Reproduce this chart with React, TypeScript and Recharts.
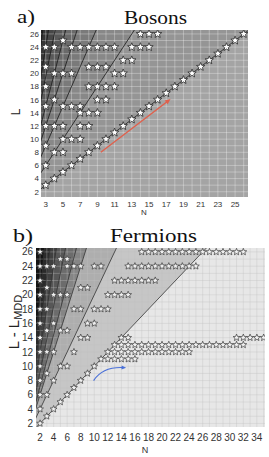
import { Area, ComposedChart, ReferenceLine, Scatter, XAxis, YAxis } from "recharts"

// ---------- panel a) Bosons ----------
const bosonTicksN = [3, 5, 7, 9, 11, 13, 15, 17, 19, 21, 23, 25]
const ticksL = [2, 4, 6, 8, 10, 12, 14, 16, 18, 20, 22, 24, 26]
// fan lines L = k*N, steepest first, and the grey of the wedge just under each line
const bosonSlopes = [10, 8, 6.5, 5, 4, 3, 2, 1]
const bosonShades = ["#363636", "#474747", "#595959", "#6a6a6a", "#7a7a7a", "#888888", "#959595", "#a4a4a4"]
const bosonTopShade = "#232323"
const bosonDiagonal = [3, 4, 5, 6, 7, 8, 9, 10, 11, 12, 13, 14, 15, 16, 17, 18, 19, 20, 21, 22, 23, 24, 25, 26]
// [L, N values] off the diagonal
const bosonRows: [number, number[]][] = [
  [26, [14, 15, 16]],
  [25, [5]],
  [24, [3, 4, 6, 7, 8, 9, 10, 11, 13, 14, 15]],
  [22, [12, 13]],
  [21, [3, 8, 9, 10]],
  [20, [4, 5, 6, 11, 12]],
  [18, [3, 8, 9, 10, 11]],
  [16, [4, 9, 10]],
  [15, [3, 5, 6, 7]],
  [14, [7, 8, 9]],
  [12, [3, 4, 5, 7, 8]],
  [10, [5, 6, 7]],
  [9, [3]],
  [8, [4, 5]],
  [6, [3]],
]
const bosonArrow = [
  { x: 9.4, y: 8 },
  { x: 17.5, y: 16.1 },
]

// ---------- panel b) Fermions ----------
const fermionTicksN = [2, 4, 6, 8, 10, 12, 14, 16, 18, 20, 22, 24, 26, 28, 30, 32, 34]
const fermionSlopes = [10, 7.6, 6, 4.6, 3.6, 3, 2, 1]
const fermionShades = ["#2a2a2a", "#404040", "#575757", "#6c6c6c", "#858585", "#aeaeae", "#c6c6c6", "#e7e7e7"]
const fermionTopShade = "#141414"
const fermionDiagonal = [2, 3, 4, 5, 6, 7, 8, 9, 10]
const fermionRows: [number, number[]][] = [
  [26, [2, 17, 18, 19, 20, 21, 22, 23, 24, 25, 26, 27, 28, 29, 30, 31, 32]],
  [25, [5, 6]],
  [24, [2, 3, 4, 6, 7, 8, 10, 11, 15, 16, 17, 18, 19, 20, 21, 22, 23, 24, 25]],
  [22, [2, 13, 14, 15, 16, 17, 18, 19]],
  [21, [3, 8, 9]],
  [20, [2, 4, 5, 6, 12, 13, 14, 15]],
  [18, [2, 3, 7, 8, 10, 11, 12]],
  [16, [2, 4, 9, 10]],
  [15, [3, 5, 6]],
  [14, [2, 8, 9, 14, 15, 31, 32, 33, 34, 35]],
  [13, [13, 14, 15, 16, 17, 18, 19, 20, 21, 22, 23, 24, 25, 26, 27, 28, 29, 30, 31, 32]],
  [12, [2, 3, 4, 7, 12, 13, 14, 15, 16, 17, 18, 19, 20, 21, 22, 23, 24]],
  [11, [11, 12, 13, 14, 15, 16]],
  [10, [2, 5, 6]],
  [9, [3]],
  [8, [2, 4]],
  [6, [2, 3]],
  [4, [2]],
]
const fermionArrow = [
  { x: 9.9, y: 8.0 },
  { x: 14.7, y: 9.8 },
]

const tickFont = "'Liberation Sans', Arial, sans-serif"

function toPoints(diagonal: number[], rows: [number, number[]][]) {
  const pts = diagonal.map((n) => ({ n, l: n }))
  rows.forEach(([l, ns]) => ns.forEach((n) => pts.push({ n, l })))
  return pts
}

function fanTable(slopes: number[]) {
  return [0, 40].map((n) => {
    const row: Record<string, number> = { n, top: 60 }
    slopes.forEach((k, i) => {
      row[`s${i}`] = k * n
    })
    return row
  })
}

function starPoints(cx: number, cy: number, R: number, r: number) {
  const pts: string[] = []
  for (let i = 0; i < 10; i++) {
    const rad = i % 2 === 0 ? R : r
    const a = -Math.PI / 2 + (i * Math.PI) / 5
    pts.push(`${(cx + rad * Math.cos(a)).toFixed(2)},${(cy + rad * Math.sin(a)).toFixed(2)}`)
  }
  return pts.join(" ")
}

const makeStar = (R: number, r: number, fill: string, stroke: string, sw: number) => (props: any) =>
  <polygon points={starPoints(props.cx, props.cy, R, r)} fill={fill} stroke={stroke} strokeWidth={sw} />

function arrowHead(x: number, y: number, ang: number, size: number) {
  const w = 0.42
  const a = [x - size * Math.cos(ang - w), y - size * Math.sin(ang - w)]
  const b = [x - size * Math.cos(ang + w), y - size * Math.sin(ang + w)]
  return `${x},${y} ${a[0]},${a[1]} ${b[0]},${b[1]}`
}

const StraightArrow = (props: any) => {
  const { x1, y1, x2, y2 } = props
  const ang = Math.atan2(y2 - y1, x2 - x1)
  const color = "#e0604c"
  return (
    <g>
      <line x1={x1} y1={y1} x2={x2 - 4 * Math.cos(ang)} y2={y2 - 4 * Math.sin(ang)} stroke={color} strokeWidth={1.4} />
      <polygon points={arrowHead(x2, y2, ang, 6)} fill={color} />
    </g>
  )
}

const CurvedArrow = (props: any) => {
  const { x1, y1, x2, y2 } = props
  const cx = x1 + 0.28 * (x2 - x1)
  const cy = y2 - 1
  const ang = Math.atan2(y2 - cy, x2 - cx)
  const color = "#4a70d8"
  return (
    <g>
      <path
        d={`M${x1},${y1} Q${cx},${cy} ${x2 - 3 * Math.cos(ang)},${y2 - 3 * Math.sin(ang)}`}
        fill="none"
        stroke={color}
        strokeWidth={1.2}
      />
      <polygon points={arrowHead(x2, y2, ang, 5)} fill={color} />
    </g>
  )
}

function range(a: number, b: number) {
  return Array.from({ length: b - a + 1 }, (_, i) => a + i)
}

interface PanelProps {
  width: number
  height: number
  margin: { top: number; right: number; bottom: number; left: number }
  yWidth: number
  xDomain: [number, number]
  yDomain: [number, number]
  xTicks: number[]
  slopes: number[]
  shades: string[]
  topShade: string
  points: { n: number; l: number }[]
  star: (p: any) => any
  gridN: number[]
  gridL: number[]
  gridStroke: string
  gridOpacity: number
  lineStroke: string
  fontSize: number
  xTickGap: number
  yTickGap: number
  arrow: { x: number; y: number }[]
  arrowShape: (p: any) => any
}

function Panel(p: PanelProps) {
  const data = fanTable(p.slopes)
  return (
    <ComposedChart width={p.width} height={p.height} data={data} margin={p.margin}>
      <XAxis
        type="number"
        dataKey="n"
        domain={p.xDomain}
        allowDataOverflow
        ticks={p.xTicks}
        interval={0}
        axisLine={false}
        tickLine={false}
        tickSize={2}
        tickMargin={p.xTickGap}
        height={20}
        tick={{ fontSize: p.fontSize, fill: "#333", fontFamily: tickFont }}
      />
      <YAxis
        type="number"
        dataKey="l"
        domain={p.yDomain}
        allowDataOverflow
        ticks={ticksL}
        interval={0}
        axisLine={false}
        tickLine={false}
        tickSize={2}
        tickMargin={p.yTickGap}
        width={p.yWidth}
        tick={{ fontSize: p.fontSize, fill: "#333", fontFamily: tickFont }}
      />
      <Area
        type="linear"
        dataKey="top"
        stroke="none"
        fill={p.topShade}
        fillOpacity={1}
        dot={false}
        activeDot={false}
        isAnimationActive={false}
      />
      {p.slopes.map((k, i) => (
        <Area
          key={`w${k}`}
          type="linear"
          dataKey={`s${i}`}
          stroke="none"
          fill={p.shades[i]}
          fillOpacity={1}
          dot={false}
          activeDot={false}
          isAnimationActive={false}
        />
      ))}
      {p.gridN.map((n) => (
        <ReferenceLine key={`gx${n}`} x={n} stroke={p.gridStroke} strokeOpacity={p.gridOpacity} strokeWidth={1} />
      ))}
      {p.gridL.map((l) => (
        <ReferenceLine key={`gy${l}`} y={l} stroke={p.gridStroke} strokeOpacity={p.gridOpacity} strokeWidth={1} />
      ))}
      {p.slopes.map((k) => (
        <ReferenceLine
          key={`f${k}`}
          segment={[
            { x: 0, y: 0 },
            { x: 40, y: 40 * k },
          ]}
          ifOverflow="hidden"
          stroke={p.lineStroke}
          strokeWidth={0.8}
        />
      ))}
      <ReferenceLine segment={p.arrow} shape={p.arrowShape} />
      <Scatter data={p.points} dataKey="l" shape={p.star} isAnimationActive={false} />
    </ComposedChart>
  )
}

export default function App() {
  const serif = "'Liberation Serif', 'Times New Roman', serif"
  return (
    <div style={{ position: "absolute", left: 0, top: 0, width: 269, height: 457, background: "#fff" }}>
      <div style={{ position: "absolute", left: 0, top: 0 }}>
        <Panel
          width={269}
          height={225}
          margin={{ top: 30, right: 21, bottom: 8, left: 0 }}
          yWidth={41}
          xDomain={[2.45, 26.5]}
          yDomain={[1.2, 26.6]}
          xTicks={bosonTicksN}
          slopes={bosonSlopes}
          shades={bosonShades}
          topShade={bosonTopShade}
          points={toPoints(bosonDiagonal, bosonRows)}
          star={makeStar(4.4, 1.9, "#ffffff", "#2a2a2a", 0.8)}
          gridN={range(3, 26)}
          gridL={range(2, 26)}
          gridStroke="#ffffff"
          gridOpacity={0.3}
          lineStroke="#1a1a1a"
          fontSize={8}
          xTickGap={2}
          yTickGap={0}
          arrow={bosonArrow}
          arrowShape={StraightArrow}
        />
      </div>
      <div style={{ position: "absolute", left: 0, top: 225 }}>
        <Panel
          width={269}
          height={232}
          margin={{ top: 23, right: 4, bottom: 10, left: 0 }}
          yWidth={36}
          xDomain={[1.4, 35.2]}
          yDomain={[1.5, 26.55]}
          xTicks={fermionTicksN}
          slopes={fermionSlopes}
          shades={fermionShades}
          topShade={fermionTopShade}
          points={toPoints(fermionDiagonal, fermionRows)}
          star={makeStar(3.6, 1.6, "#f0f0f0", "#3a3a3a", 0.7)}
          gridN={range(2, 35)}
          gridL={range(2, 26)}
          gridStroke="#c0c0c0"
          gridOpacity={0.35}
          lineStroke="#333333"
          fontSize={10}
          xTickGap={5}
          yTickGap={1}
          arrow={fermionArrow}
          arrowShape={CurvedArrow}
        />
      </div>
      <svg width={269} height={457} style={{ position: "absolute", left: 0, top: 0, pointerEvents: "none" }}>
        <text x={17} y={23} fontFamily={serif} fontSize={19} fill="#111" textLength={18} lengthAdjust="spacingAndGlyphs">
          a)
        </text>
        <text x={124} y={24} fontFamily={serif} fontSize={18} fill="#111" textLength={63} lengthAdjust="spacingAndGlyphs">
          Bosons
        </text>
        <text x={13} y={241.5} fontFamily={serif} fontSize={19} fill="#111" textLength={20} lengthAdjust="spacingAndGlyphs">
          b)
        </text>
        <text x={110} y={241.5} fontFamily={serif} fontSize={18} fill="#111" textLength={87} lengthAdjust="spacingAndGlyphs">
          Fermions
        </text>
        <text transform="translate(20,112) rotate(-90)" textAnchor="middle" fontFamily={tickFont} fontSize={12} fill="#222">
          L
        </text>
        <text x={144} y={215} textAnchor="middle" fontFamily={tickFont} fontSize={8} fill="#333">
          N
        </text>
        <text transform="translate(18.5,322) rotate(-90)" textAnchor="middle" fontFamily={tickFont} fontSize={15} fill="#222">
          <tspan>L - L</tspan>
          <tspan fontSize={11} dy={3}>
            MDD
          </tspan>
        </text>
        <text x={145} y={453} textAnchor="middle" fontFamily={tickFont} fontSize={9} fill="#333">
          N
        </text>
      </svg>
    </div>
  )
}
